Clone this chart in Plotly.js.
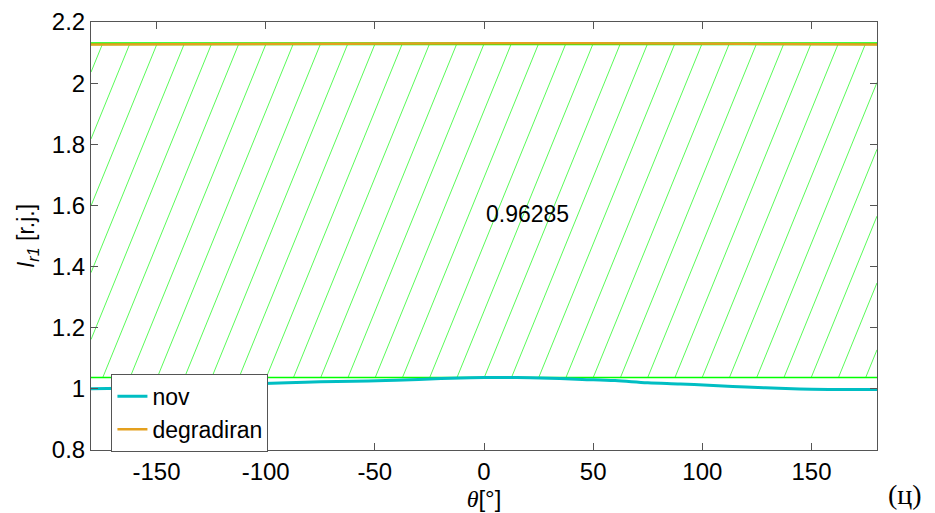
<!DOCTYPE html>
<html>
<head>
<meta charset="utf-8">
<script src="https://cdn.plot.ly/plotly-3.0.1.min.js"></script>
<style>html,body{margin:0;padding:0;background:#fff;}#chart{width:935px;height:513px;}</style>
</head>
<body>
<div id="chart"></div>
<script>
// ---- data ----
const theta = [-180,-165,-150,-135,-120,-105,-90,-75,-60,-45,-30,-15,0,15,30,45,60,75,90,105,120,135,150,165,180];
const nov = [1.000,1.002,1.005,1.009,1.013,1.017,1.020,1.023,1.025,1.027,1.031,1.035,1.037,1.037,1.035,1.031,1.027,1.020,1.016,1.011,1.006,1.002,0.999,0.998,0.998];
const degradiran = [2.1265,2.1268,2.1272,2.1278,2.1290,2.1302,2.1305,2.1306,2.1306,2.1306,2.1306,2.1306,2.1306,2.1306,2.1306,2.1306,2.1306,2.1306,2.1305,2.1302,2.1290,2.1278,2.1272,2.1268,2.1265];
const bandBottom = 1.037;   // lower limit of hatched band
const bandTop = 2.1285;     // upper limit of hatched band
const bandLabel = '0.96285';
const xTicks = [-150,-100,-50,0,50,100,150];
const yTicks = [0.8,1,1.2,1.4,1.6,1.8,2,2.2];
const seriesNames = ['nov','degradiran'];

// ---- hatch style ----
const hatchSpacing = 12.48; // degrees between hatch lines
const hatchShift = 62.3;    // horizontal travel of one hatch line across band
const xMin = -180, xMax = 180;

const hx = [], hy = [];
const H = bandTop - bandBottom;
for (let k = -20; k <= 25; k++) {
  const top = k * hatchSpacing;
  const bot = top - hatchShift;
  if (top < xMin || bot > xMax) continue;
  let x0 = bot, y0 = bandBottom, x1 = top, y1 = bandTop;
  if (bot < xMin) { x0 = xMin; y0 = bandTop - (top - xMin) * H / hatchShift; }
  if (top > xMax) { x1 = xMax; y1 = bandTop - (top - xMax) * H / hatchShift; }
  hx.push(x0, x1, null); hy.push(y0, y1, null);
}

const green = 'rgb(0,255,0)';
const traces = [
  {x: hx, y: hy, mode: 'lines', line: {color: 'rgb(70,250,70)', width: 0.9}, showlegend: false, hoverinfo: 'skip'},
  {x: [xMin, xMax], y: [bandBottom, bandBottom], mode: 'lines', line: {color: green, width: 1.5}, showlegend: false},
  {x: [xMin, xMax], y: [bandTop, bandTop], mode: 'lines', line: {color: green, width: 3}, showlegend: false},
  {x: theta, y: degradiran, mode: 'lines', name: seriesNames[1], line: {color: 'rgb(228,160,30)', width: 2.5}, line_shape: 'spline'},
  {x: theta, y: nov, mode: 'lines', name: seriesNames[0], line: {color: 'rgb(0,190,195)', width: 3, shape: 'spline'}}
];

const axisCommon = {
  showline: true, mirror: 'ticks', linecolor: '#555', linewidth: 1,
  ticks: 'inside', ticklen: 7, tickcolor: '#555', tickwidth: 1,
  showgrid: false, zeroline: false,
  tickfont: {family: 'Liberation Sans, Arial', size: 24, color: '#000'}
};

const layout = {
  width: 935, height: 513,
  margin: {l: 91, r: 58, t: 22, b: 63},
  paper_bgcolor: '#fff', plot_bgcolor: '#fff',
  showlegend: true,
  legend: {
    x: 0.026, y: 0.178, xanchor: 'left', yanchor: 'top',
    bgcolor: '#fff', bordercolor: '#555', borderwidth: 1,
    font: {family: 'Liberation Sans, Arial', size: 23, color: '#000'},
    traceorder: 'reversed', itemwidth: 30, tracegroupgap: 0
  },
  xaxis: Object.assign({}, axisCommon, {
    range: [xMin, xMax], tickvals: xTicks, ticktext: xTicks.map(v => v < 0 ? '-' + Math.abs(v) : String(v)),
    title: {text: '<span style="font-family:Liberation Serif"><i>θ</i></span>[°]', font: {family: 'Liberation Sans, Arial', size: 24, color: '#000'}, standoff: 0}
  }),
  yaxis: Object.assign({}, axisCommon, {
    range: [0.8, 2.2], tickvals: yTicks,
    title: {text: '<i>I</i><sub><i>r1</i></sub> [r.j.]', font: {family: 'Liberation Sans, Arial', size: 23, color: '#000'}, standoff: 10}
  }),
  annotations: [
    {x: 0, y: 1.572, xref: 'x', yref: 'y', text: bandLabel, showarrow: false, xanchor: 'left', yanchor: 'middle',
     font: {family: 'Liberation Sans, Arial', size: 23, color: '#000'}},
    {x: 1.036, y: -0.105, xref: 'paper', yref: 'paper', text: '(ц)', showarrow: false, xanchor: 'center', yanchor: 'middle',
     font: {family: 'Liberation Serif, Times New Roman', size: 28, color: '#000'}}
  ]
};

Plotly.newPlot('chart', traces, layout, {displayModeBar: false, staticPlot: true});
</script>
</body>
</html>
